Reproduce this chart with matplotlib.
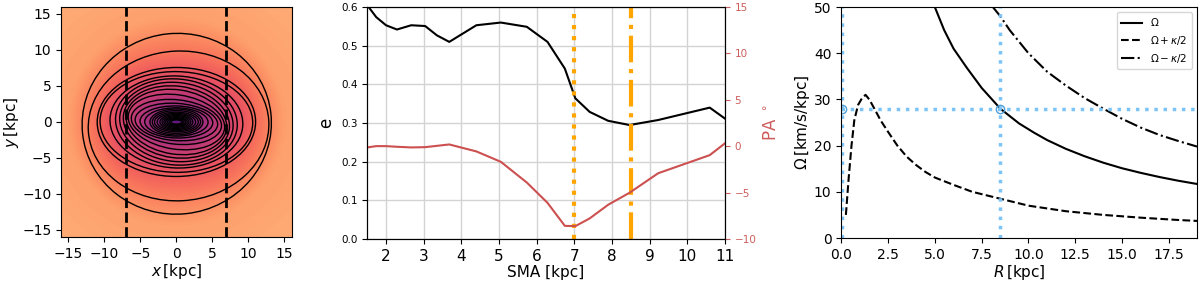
import matplotlib
matplotlib.use("Agg")
import matplotlib.pyplot as plt
from matplotlib.patches import Ellipse
import numpy as np

# isophote fit: semi-major axis, ellipticity, position angle
sma = [1.5, 1.74, 2.0, 2.29, 2.67, 3.04, 3.35, 3.68, 4.4, 5.05, 5.74, 6.29,
       6.75, 7.03, 7.41, 7.9, 8.47, 9.23, 10.6, 11.0]
ell = [0.605, 0.574, 0.553, 0.542, 0.553, 0.551, 0.527, 0.510, 0.553, 0.560,
       0.549, 0.510, 0.441, 0.364, 0.329, 0.306, 0.295, 0.308, 0.340, 0.312]
pa = [-0.12, 0.02, 0.02, -0.05, -0.12, -0.09, 0.05, 0.2, -0.55, -1.67,
      -3.9, -6.09, -8.57, -8.6, -7.77, -6.3, -5.0, -2.9, -0.95, 0.31]

# extra rings in the map (inside the fitted range and outside of it)
inner_sma = [0.75, 1.0, 1.25]
inner_ell = [0.62, 0.62, 0.61]
outer_a = [12.55, 13.15]
outer_b = [10.4, 12.55]
outer_x0 = [0.3, 0.05]
outer_y0 = [-0.55, -0.25]
outer_pa = [3.0, 6.0]

bar_cut = [-7.0, 6.85]
cr_sma = 7.0
omega_p_sma = 8.5

# frequency curves
r_om = [4.9, 5.5, 6.0, 6.7, 7.5, 8.5, 9.5, 10.3, 11.0, 12.0, 13.0, 14.0,
        15.0, 16.0, 17.0, 18.0, 19.0]
om = [51.0, 45.0, 41.0, 36.9, 32.5, 28.0, 24.8, 22.8, 21.2, 19.3, 17.7, 16.3,
      15.1, 14.1, 13.2, 12.4, 11.7]
r_dd = [8.1, 8.5, 9.0, 10.0, 11.0, 12.0, 13.0, 14.0, 15.0, 16.0, 17.0, 18.0, 19.0]
om_dd = [50.0, 48.0, 45.0, 40.0, 36.0, 33.0, 30.3, 28.0, 25.8, 23.9, 22.3, 21.0, 19.8]
r_d = [0.25, 0.4, 0.55, 0.7, 0.9, 1.1, 1.3, 1.5, 1.8, 2.1, 2.5, 3.0, 3.5, 4.0,
       4.5, 5.0, 6.0, 7.0, 8.0, 8.5, 9.0, 10.0, 11.0, 12.0, 13.0, 14.0, 15.0,
       16.0, 17.0, 18.0, 19.0]
om_d = [5.0, 13.0, 20.0, 25.5, 28.8, 30.2, 31.0, 30.0, 27.8, 25.5, 23.0, 20.0,
        17.6, 15.8, 14.3, 13.1, 11.5, 10.0, 9.0, 8.5, 8.0, 7.0, 6.4, 5.8, 5.4,
        5.0, 4.7, 4.4, 4.15, 3.9, 3.7]
r_cr = 8.5
om_p = 28.0
r_ilr = 0.05

fig = plt.figure(figsize=(12, 2.83), dpi=100)

# --- surface brightness map (smooth model)
ax1 = fig.add_axes([0.051, 0.159, 0.192, 0.820])
g = np.linspace(-16, 16, 400)
X, Y = np.meshgrid(g, g)
r = np.hypot(X, Y)
q = np.clip(0.55 + 0.4 * r / 14, 0.55, 0.95)
re = np.hypot(X, Y / q)
mu = 0.224 * (1 - np.exp(-re / 8)) + 0.022 * np.minimum(re, 15)
ax1.imshow(mu, extent=[-16, 16, -16, 16], origin='lower',
           cmap='magma', vmin=-0.28, vmax=0.72, interpolation='bilinear')
for a, e in zip(inner_sma, inner_ell):
    ax1.add_patch(Ellipse((0, 0), 2 * a, 2 * a * (1 - e), angle=0,
                          fill=False, ec='k', lw=1.0))
for a, e, p in zip(sma, ell, pa):
    ax1.add_patch(Ellipse((0, 0), 2 * a, 2 * a * (1 - e), angle=p,
                          fill=False, ec='k', lw=1.0))
for a, b, x0, y0, p in zip(outer_a, outer_b, outer_x0, outer_y0, outer_pa):
    ax1.add_patch(Ellipse((x0, y0), 2 * a, 2 * b, angle=p,
                          fill=False, ec='k', lw=1.0))
for xc in bar_cut:
    ax1.axvline(xc, color='k', ls='--', lw=2)
ax1.set_xlim(-16, 16)
ax1.set_ylim(-16, 16)
ax1.set_xticks([-15, -10, -5, 0, 5, 10, 15])
ax1.set_yticks([-15, -10, -5, 0, 5, 10, 15])
ax1.tick_params(labelsize=10)
ax1.set_xlabel(r'$x\,$[kpc]', fontsize=11, labelpad=1)
ax1.set_ylabel(r'$y\,$[kpc]', fontsize=11, labelpad=1)

# --- ellipticity and PA
ax2 = fig.add_axes([0.306, 0.155, 0.298, 0.820])
ax2.plot(sma, ell, color='k', lw=1.5)
ax2.set_xlim(1.5, 11)
ax2.set_ylim(0, 0.6)
ax2.set_xticks(range(2, 12))
ax2.set_yticks(np.arange(0, 0.61, 0.1))
ax2.grid(True, color='#d3d3d3', lw=1)
ax2.tick_params(axis='x', labelsize=11)
ax2.tick_params(axis='y', labelsize=7.5)
ax2.set_xlabel('SMA [kpc]', fontsize=11, labelpad=1)
ax2.set_ylabel('e', fontsize=12)
ax2.axvline(cr_sma, color='orange', ls=':', lw=3)
ax2.axvline(omega_p_sma, color='orange', ls='-.', lw=3)
ax2b = ax2.twinx()
ax2b.plot(sma, pa, color='#cd5050', lw=1.5)
ax2b.set_ylim(-10, 15)
ax2b.set_yticks([-10, -5, 0, 5, 10, 15])
ax2b.tick_params(axis='y', labelsize=7.5, colors='#cd5c5c')
ax2b.set_ylabel(r'PA $^\circ$', fontsize=12, color='#cd5c5c')

# --- frequencies
ax3 = fig.add_axes([0.701, 0.159, 0.2965, 0.816])
ax3.plot(r_om, om, color='k', ls='-', lw=1.5, label=r'$\Omega$')
ax3.plot(r_d, om_d, color='k', ls='--', lw=1.5, label=r'$\Omega + \kappa/2$')
ax3.plot(r_dd, om_dd, color='k', ls='-.', lw=1.5, label=r'$\Omega - \kappa/2$')
ax3.axhline(om_p, color='#7cc4f8', ls=':', lw=2.5)
ax3.axvline(r_cr, color='#7cc4f8', ls=':', lw=2.5)
ax3.axvline(r_ilr, color='#7cc4f8', ls=':', lw=2.5)
ax3.plot([r_cr, r_ilr], [om_p, om_p], 'o', mfc='none', mec='#4f9fd8', ms=6)
ax3.set_xlim(0, 19)
ax3.set_ylim(0, 50)
ax3.tick_params(labelsize=10)
ax3.set_xlabel(r'$R\,$[kpc]', fontsize=11, labelpad=1)
ax3.set_ylabel(r'$\Omega\,$[km/s/kpc]', fontsize=11, labelpad=1)
ax3.legend(loc='upper right', fontsize=7.5)

fig.savefig('out.png', dpi=100)
